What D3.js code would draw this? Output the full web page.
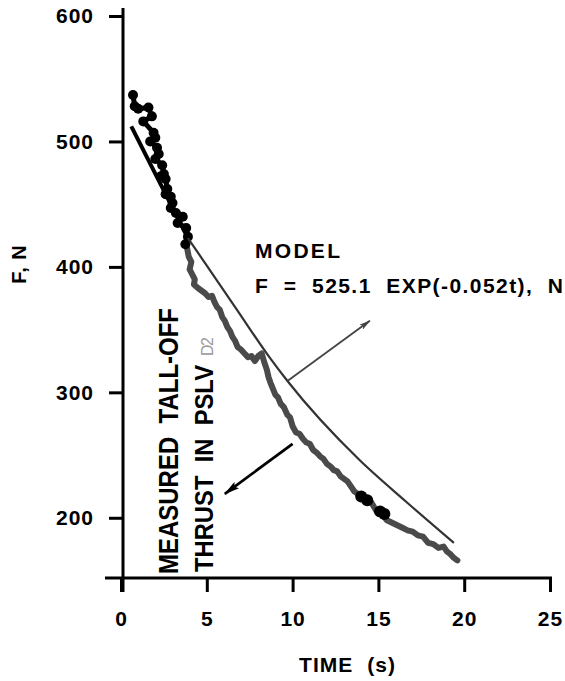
<!DOCTYPE html>
<html><head><meta charset="utf-8">
<script src="https://cdn.jsdelivr.net/npm/d3@7"></script>
<style>
html,body{margin:0;padding:0;background:#fff;}
svg{display:block;}
text{font-family:"Liberation Sans",Arial,Helvetica,sans-serif;}
</style></head>
<body>
<svg id="chart" width="565" height="681"></svg>
<script>
// ---- data ----
const xTicks = [0, 5, 10, 15, 20, 25];
const yTicks = [200, 300, 400, 500, 600];

// model curve (as drawn)
const modelT = [0.6, 3.9, 6.7, 8.7, 9.7, 13.9, 16.6, 19.4];
const modelF = [512, 423, 367, 327, 309, 246, 213, 180];

// measured, early part (black markers)
const earlyT = [0.7, 0.8, 1.0, 1.6, 1.8, 1.3, 1.9, 2.0, 1.7, 2.1, 2.2, 2.0, 2.4, 2.5, 2.3, 2.6, 2.7, 2.6, 2.9, 3.0, 2.9, 3.2, 3.6, 3.3, 3.8, 3.9, 3.75];
const earlyF = [537, 528, 526, 527, 520, 516, 507, 503, 500, 495, 490, 486, 481, 474, 472, 470, 462, 458, 456, 451, 447, 443, 440, 435, 431, 424, 418];

// measured, later part (grey trace)
const measT = [3.85,3.95,4.10,4.00,4.15,4.30,4.25,4.50,4.70,4.90,5.10,5.30,5.45,5.60,5.75,5.90,6.05,6.20,6.35,6.50,6.65,6.80,7.00,7.20,7.40,7.60,7.80,8.00,8.20,8.35,8.50,8.60,8.70,8.85,9.00,9.15,9.30,9.50,9.70,9.85,10.00,10.20,10.40,10.60,10.80,11.00,11.20,11.40,11.60,11.80,12.00,12.20,12.40,12.60,12.80,13.00,13.20,13.40,13.60,13.80,14.00,14.30,14.60,14.90,15.20,15.50,15.80,16.10,16.40,16.70,17.00,17.30,17.60,17.90,18.20,18.50,18.80,19.00,19.20,19.40,19.60];
const measF = [415,408,404,398,394,390,386,383,381,379,376,377,372,368,366,360,357,352,349,344,341,336,334,331,328,329,325,329,331,324,318,312,308,303,298,296,291,288,282,280,273,268,267,263,260,259,254,252,249,247,243,241,238,237,233,231,229,225,221,219,216,214,212,205,203,198,196,194,192,190,189,186,185,180,179,176,177,173,171,168,166];

// black blobs on the trace
const blobT = [14.0, 14.35, 15.1, 15.35];
const blobF = [217, 214, 205, 203];

// ---- chart ----
const svg = d3.select("#chart");
const x = d3.scaleLinear().domain([0, 25]).range([121, 550]);
const y = d3.scaleLinear().domain([152, 600]).range([578, 16]);
const FONT = '"Liberation Sans",Arial,Helvetica,sans-serif';

const tickFont = g => g.selectAll("text")
  .attr("font-size", 21).attr("font-weight", "bold").attr("fill", "#000")
  .attr("letter-spacing", "1px")
  .style("font-family", FONT);

// y axis
const gy = svg.append("g").attr("transform", "translate(123,0)")
  .call(d3.axisLeft(y).tickValues(yTicks).tickSize(14).tickPadding(15).tickSizeOuter(0).tickFormat(d3.format("d")));
gy.select(".domain").attr("d", "M0,8V592").attr("stroke", "#000").attr("stroke-width", 3);
gy.selectAll(".tick line").attr("stroke", "#000").attr("stroke-width", 3);
gy.call(tickFont);

// x axis
const gx = svg.append("g").attr("transform", "translate(0,578)")
  .call(d3.axisBottom(x).tickValues(xTicks).tickSize(14).tickPadding(19).tickSizeOuter(0).tickFormat(d3.format("d")));
gx.select(".domain").attr("d", "M105,0H552").attr("stroke", "#000").attr("stroke-width", 3);
gx.selectAll(".tick line").attr("stroke", "#000").attr("stroke-width", 3);
gx.call(tickFont);

// measured grey trace
const meas = measT.map((t, i) => [t, measF[i]]);
svg.append("path").datum(meas)
  .attr("d", d3.line().x(d => x(d[0])).y(d => y(d[1])))
  .attr("fill", "none").attr("stroke", "#4a4a4a").attr("stroke-width", 6)
  .attr("stroke-linejoin", "round").attr("stroke-linecap", "round");

// early black measured
const early = earlyT.map((t, i) => [t, earlyF[i]]);
svg.append("path").datum(early)
  .attr("d", d3.line().x(d => x(d[0])).y(d => y(d[1])))
  .attr("fill", "none").attr("stroke", "#000").attr("stroke-width", 5)
  .attr("stroke-linejoin", "round");
svg.append("g").selectAll("circle").data(early).join("circle")
  .attr("cx", d => x(d[0])).attr("cy", d => y(d[1])).attr("r", 5).attr("fill", "#000");

// blobs
svg.append("g").selectAll("circle").data(blobT.map((t, i) => [t, blobF[i]])).join("circle")
  .attr("cx", d => x(d[0])).attr("cy", d => y(d[1])).attr("r", 6).attr("fill", "#000");

// model curve
const model = modelT.map((t, i) => [t, modelF[i]]);
svg.append("path").datum(model.slice(0, 2))
  .attr("d", d3.line().x(d => x(d[0])).y(d => y(d[1])))
  .attr("fill", "none").attr("stroke", "#000").attr("stroke-width", 4);
svg.append("path").datum(model.slice(1))
  .attr("d", d3.line().curve(d3.curveMonotoneX).x(d => x(d[0])).y(d => y(d[1])))
  .attr("fill", "none").attr("stroke", "#333").attr("stroke-width", 2.2);

// arrows
const defs = svg.append("defs");
defs.append("marker").attr("id", "headThin").attr("viewBox", "0 0 12 6")
  .attr("refX", 11).attr("refY", 3).attr("markerWidth", 12).attr("markerHeight", 6)
  .attr("markerUnits", "userSpaceOnUse").attr("orient", "auto")
  .append("path").attr("d", "M0,0L12,3L0,6L3,3Z").attr("fill", "#444");
defs.append("marker").attr("id", "headThick").attr("viewBox", "0 0 16 8")
  .attr("refX", 15).attr("refY", 4).attr("markerWidth", 16).attr("markerHeight", 8)
  .attr("markerUnits", "userSpaceOnUse").attr("orient", "auto")
  .append("path").attr("d", "M0,0L16,4L0,8L3,4Z").attr("fill", "#000");

svg.append("line")
  .attr("x1", x(9.7)).attr("y1", y(309)).attr("x2", x(14.5)).attr("y2", y(357))
  .attr("stroke", "#444").attr("stroke-width", 1.8).attr("marker-end", "url(#headThin)");
svg.append("line")
  .attr("x1", x(10.0)).attr("y1", y(259)).attr("x2", x(6.05)).attr("y2", y(219))
  .attr("stroke", "#000").attr("stroke-width", 2.8).attr("marker-end", "url(#headThick)");

// texts
const T = (sel) => sel.attr("fill", "#000").attr("font-weight", "bold");

T(svg.append("text").attr("transform", "translate(26,264) rotate(-90)")
  .attr("text-anchor", "middle").attr("font-size", 20).attr("letter-spacing", "1px").text("F, N"));

T(svg.append("text").attr("x", 347).attr("y", 672).attr("text-anchor", "middle")
  .attr("font-size", 21).attr("textLength", 96).attr("lengthAdjust", "spacing")
  .style("white-space", "pre").text("TIME  (s)"));

T(svg.append("text").attr("x", 255).attr("y", 258).attr("font-size", 21)
  .attr("textLength", 85).attr("lengthAdjust", "spacing").text("MODEL"));

T(svg.append("text").attr("x", 255).attr("y", 293).attr("font-size", 21)
  .attr("textLength", 308).attr("lengthAdjust", "spacing")
  .style("white-space", "pre").text("F  =  525.1  EXP(-0.052t),  N"));

T(svg.append("text").attr("transform", "translate(178,574) rotate(-90)")
  .attr("font-size", 27).attr("textLength", 266).attr("lengthAdjust", "spacingAndGlyphs")
  .style("white-space", "pre").text("MEASURED  TALL-OFF"));

T(svg.append("text").attr("transform", "translate(213,572) rotate(-90)")
  .attr("font-size", 25).attr("textLength", 207).attr("lengthAdjust", "spacingAndGlyphs")
  .style("white-space", "pre").text("THRUST  IN  PSLV"));

svg.append("text").attr("transform", "translate(213,356) rotate(-90)")
  .attr("font-size", 16).attr("fill", "#999").attr("textLength", 19).text("D2");
</script>
</body></html>
